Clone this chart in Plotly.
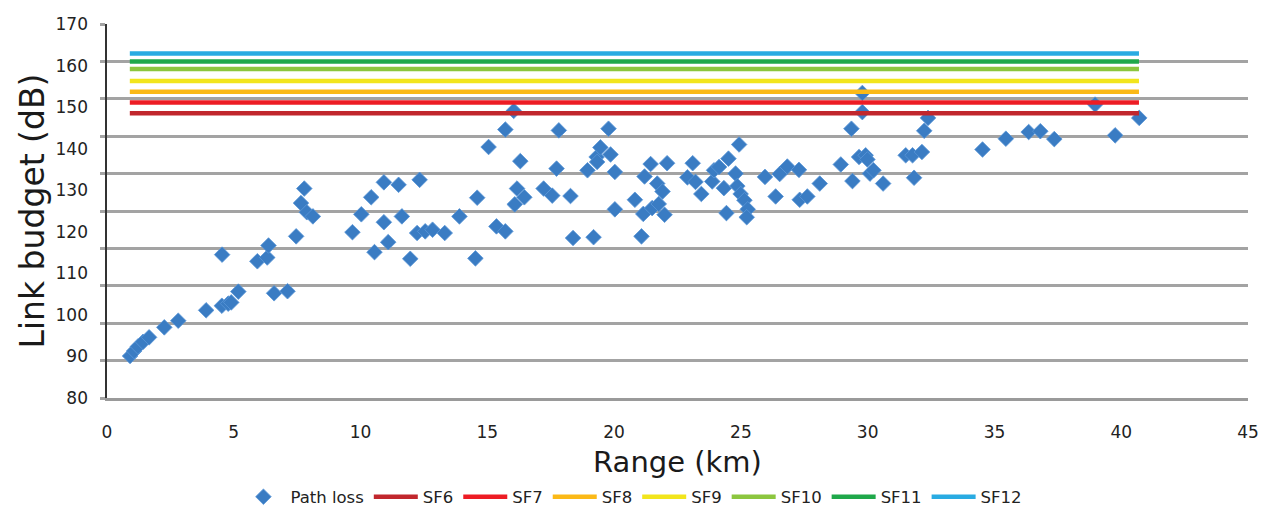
import plotly.graph_objects as go

# Path loss measurements (range in km, link budget in dB)
range_km = [0.91, 1.07, 1.22, 1.42, 1.66, 2.26, 2.81, 3.91, 4.53, 4.78, 4.90, 5.18, 4.54, 5.93, 6.32,
            6.37, 6.59, 7.12, 7.46, 7.65, 7.78, 7.88, 8.12, 9.68, 10.03, 10.42, 10.55, 10.92, 10.92,
            11.09, 11.50, 11.63, 11.96, 12.33, 12.23, 12.55, 12.84, 13.32, 13.90, 14.53, 14.60, 15.05,
            15.36, 15.71, 15.71, 16.04, 16.17, 16.30, 16.46, 16.08, 17.22, 17.56, 17.82, 17.73, 18.28,
            18.38, 18.95, 19.19, 19.31, 19.46, 19.33, 19.78, 19.86, 20.03, 20.03, 20.82, 21.08, 21.15,
            21.20, 21.44, 21.50, 21.70, 21.76, 21.91, 21.99, 22.09, 22.89, 23.10, 23.21, 23.44, 23.87,
            23.94, 24.14, 24.33, 24.43, 24.51, 24.79, 24.93, 24.86, 24.99, 25.14, 25.27, 25.23, 25.95,
            26.37, 26.53, 26.83, 27.29, 27.32, 27.62, 28.11, 28.94, 29.36, 29.40, 29.66, 29.92, 29.99,
            29.79, 29.79, 30.09, 30.23, 30.61, 31.50, 31.77, 32.14, 31.83, 32.23, 32.38, 34.53, 35.45,
            36.35, 36.81, 37.36, 38.97, 39.76, 40.71]
path_loss = [90.1, 91.3, 92.4, 93.5, 94.6, 97.0, 98.6, 101.1, 102.2, 102.7, 103.0, 105.6, 114.5, 112.9, 113.8,
             116.7, 105.2, 105.7, 118.9, 126.9, 130.4, 124.7, 123.7, 119.9, 124.2, 128.3, 115.1, 131.9, 122.3,
             117.5, 131.3, 123.7, 113.5, 132.5, 119.7, 120.1, 120.5, 119.7, 123.7, 113.6, 128.2, 140.4,
             121.3, 120.1, 144.6, 149.1, 130.4, 137.0, 128.3, 126.6, 130.4, 128.7, 144.4, 135.2, 128.6,
             118.5, 134.8, 118.7, 138.0, 140.3, 136.8, 144.8, 138.6, 134.4, 125.4, 127.7, 118.9, 124.3,
             133.3, 136.3, 125.7, 131.6, 126.7, 129.7, 124.1, 136.5, 133.1, 136.5, 132.0, 129.1, 132.1,
             134.8, 135.6, 130.5, 124.5, 137.6, 134.0, 141.0, 131.0, 129.1, 127.6, 125.4, 123.5, 133.2,
             128.5, 133.9, 135.7, 134.9, 127.7, 128.5, 131.6, 136.2, 144.8, 132.2, 138.0, 138.4, 137.4,
             153.4, 148.8, 134.0, 134.8, 131.6, 138.4, 138.4, 139.2, 133.0, 144.3, 147.4, 139.8, 142.4,
             144.0, 144.2, 142.3, 150.6, 143.2, 147.4]

# Spreading-factor link budgets (dB)
sf_names = ["SF6", "SF7", "SF8", "SF9", "SF10", "SF11", "SF12"]
sf_budget = [148.5, 151.1, 153.7, 156.3, 159.2, 161.0, 162.9]
sf_colors = ["#c1272d", "#ed1c24", "#fbb917", "#f2e51c", "#8cc63f", "#1fa84a", "#29abe2"]
sf_range = [0.9, 40.7]

x_ticks = [0, 5, 10, 15, 20, 25, 30, 35, 40, 45]
y_ticks = [80, 90, 100, 110, 120, 130, 140, 150, 160, 170]

fig = go.Figure()

# invisible trace carrying the gridline axis
fig.add_trace(go.Scatter(x=[], y=[], yaxis="y2", showlegend=False, hoverinfo="skip"))

fig.add_trace(go.Scatter(
    x=range_km, y=path_loss, mode="markers", name="Path loss",
    marker=dict(symbol="diamond", size=12, color="#3a7cc3",
                line=dict(color="rgba(90,150,215,0.8)", width=1)),
))

for name, val, col in zip(sf_names, sf_budget, sf_colors):
    fig.add_trace(go.Scatter(
        x=sf_range, y=[val, val], mode="lines", name=name,
        line=dict(color=col, width=4.5),
    ))

font_main = "DejaVu Sans"

# page body has an 8px margin, so the figure is sized/offset to compensate
fig.update_layout(
    width=1263, height=500,
    margin=dict(l=99, r=23, t=16, b=110),
    paper_bgcolor="white", plot_bgcolor="white",
    font=dict(family=font_main, color="#222222"),
    showlegend=True,
    legend=dict(orientation="h", xref="container", yref="container",
                x=0.494, xanchor="center", y=0.022, yanchor="middle",
                font=dict(size=16.5, family=font_main, color="#222222"),
                itemwidth=44, tracegroupgap=0),
    xaxis=dict(range=[0, 45], tickvals=x_ticks, showgrid=False, zeroline=False,
               showline=True, linecolor="#9a9a9a", linewidth=2.5, automargin=False,
               ticks="", ticklabelstandoff=17,
               tickfont=dict(size=17, color="#222222"),
               title=dict(text="Range (km)", font=dict(size=29, color="#1a1a1a"), standoff=19)),
    yaxis=dict(range=[80, 170], tickvals=y_ticks, showgrid=False, zeroline=False,
               showline=False, ticks="", ticklabelstandoff=18, automargin=False,
               tickfont=dict(size=17, color="#222222"),
               title=dict(text="Link budget (dB)", font=dict(size=33, color="#1a1a1a"), standoff=0)),
    yaxis2=dict(range=[0, 10], dtick=1, overlaying="y", side="left",
                showgrid=True, gridcolor="#a3a3a3", gridwidth=2.5, automargin=False,
                showticklabels=False, zeroline=False,
                showline=True, linecolor="#333333", linewidth=2,
                ticks="outside", ticklen=5, tickcolor="#a3a3a3", tickwidth=2.5),
)

fig.write_html("out.html")
